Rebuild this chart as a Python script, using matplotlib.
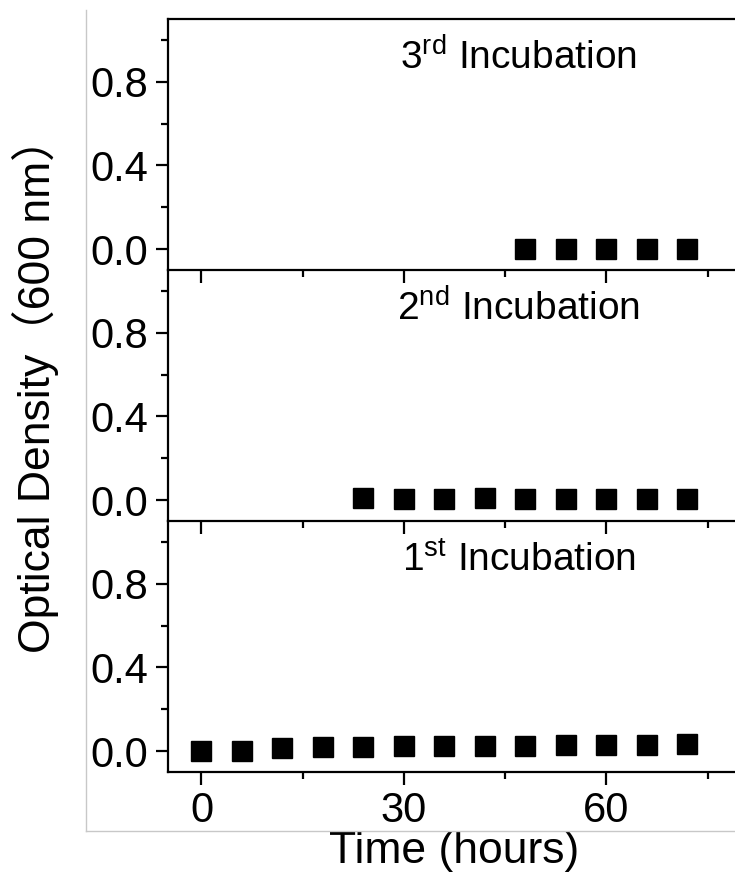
import matplotlib
matplotlib.use("Agg")
import matplotlib.pyplot as plt
from matplotlib.lines import Line2D
from matplotlib.ticker import MultipleLocator

plt.rcParams['font.family'] = ['Liberation Sans', 'Noto Sans CJK SC', 'DejaVu Sans']
plt.rcParams['mathtext.fontset'] = 'custom'
plt.rcParams['mathtext.rm'] = 'Liberation Sans'
plt.rcParams['mathtext.it'] = 'Liberation Sans'

# Data
first_x = [0, 6, 12, 18, 24, 30, 36, 42, 48, 54, 60, 66, 72]
first_y = [0.0, 0.0, 0.016, 0.018, 0.02, 0.022, 0.025, 0.026, 0.026, 0.027, 0.03, 0.031, 0.032]
second_x = [24, 30, 36, 42, 48, 54, 60, 66, 72]
second_y = [0.008, 0.004, 0.005, 0.008, 0.006, 0.006, 0.004, 0.004, 0.006]
third_x = [48, 54, 60, 66, 72]
third_y = [0.0, 0.0, 0.0, 0.0, 0.0]

panel_labels = ["3$^{\\mathrm{rd}}$ Incubation", "2$^{\\mathrm{nd}}$ Incubation", "1$^{\\mathrm{st}}$ Incubation"]
xticks = [0, 30, 60]
yticks = [0.0, 0.4, 0.8]
ytick_labels = ["0.0", "0.4", "0.8"]

W, H = 735, 875
fig = plt.figure(figsize=(W / 100, H / 100), dpi=100)

left = 167.7 / W
width = (741.5 - 167.7) / W
bottom = (H - 772) / H
ph = 251 / H

series = [(third_x, third_y), (second_x, second_y), (first_x, first_y)]
axes = []
for i, ((xs, ys), lab) in enumerate(zip(series, panel_labels)):
    b = bottom + (2 - i) * ph
    ax = fig.add_axes([left, b, width, ph])
    axes.append(ax)
    ax.plot(xs, ys, linestyle='none', marker='s', markersize=14, color='black')
    ax.set_xlim(-5, 80)
    ax.set_ylim(-0.1, 1.1)
    ax.set_yticks(yticks)
    ax.set_yticklabels(ytick_labels)
    ax.yaxis.set_minor_locator(MultipleLocator(0.2))
    ax.set_xticks(xticks)
    ax.xaxis.set_minor_locator(MultipleLocator(15))
    ax.spines['right'].set_visible(False)
    for s in ['left', 'bottom', 'top']:
        ax.spines[s].set_linewidth(1.6)
    if i > 0:
        ax.spines['top'].set_visible(False)
    ax.tick_params(which='major', direction='out', length=9, width=1.6, labelsize=30, pad=5)
    ax.tick_params(which='minor', direction='out', length=5, width=1.6)
    ax.tick_params(axis='y', which='both', right=False)
    ax.tick_params(axis='x', which='both', top=False)
    if i < 2:
        ax.tick_params(axis='x', labelbottom=False)
    ax.text(47, 0.86, lab, ha='center', va='baseline', fontsize=28)
    ax.patch.set_alpha(0)

axes[2].set_xlabel("Time (hours)", fontsize=32, labelpad=0)
fig.text(35 / W, 1 - 385 / H, "Optical Density（600 nm）", rotation=90,
         ha='center', va='center', fontsize=32)

# light gray frame
fig.add_artist(Line2D([86 / W, 86 / W], [1 - 10 / H, 1 - 831 / H], color='#c8c8c8', lw=1))
fig.add_artist(Line2D([86 / W, 1.0], [1 - 831 / H, 1 - 831 / H], color='#c8c8c8', lw=1))

fig.savefig("out.png", dpi=100)
